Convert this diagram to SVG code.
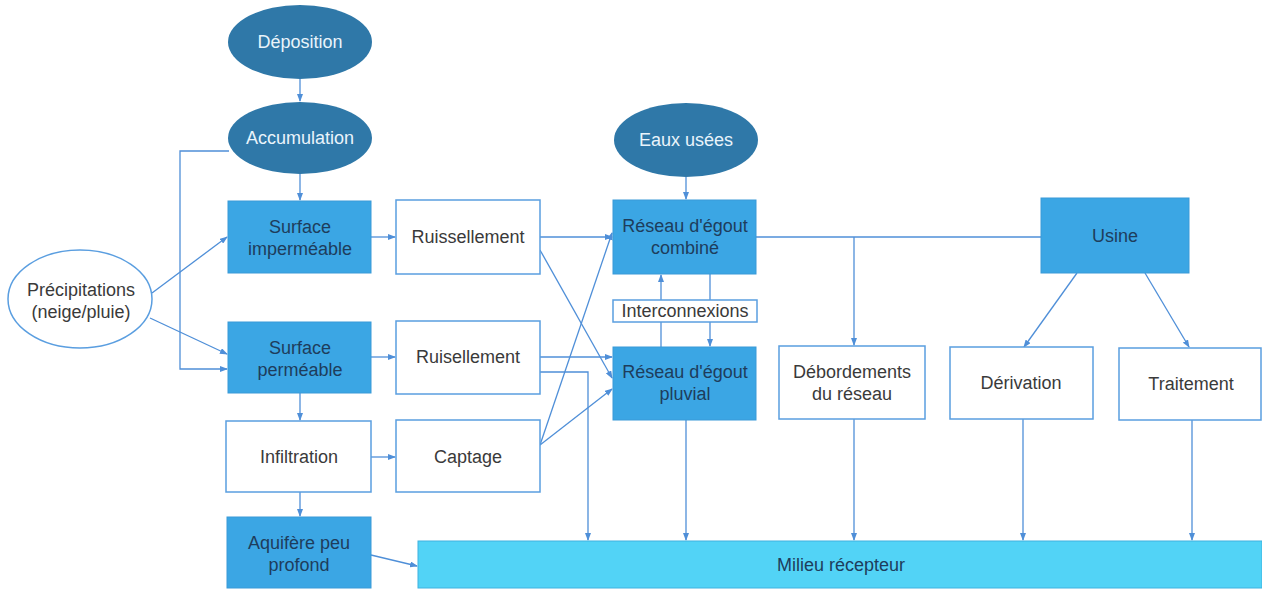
<svg xmlns="http://www.w3.org/2000/svg" width="1262" height="589" viewBox="0 0 1262 589">
<style>
text{font-family:"Liberation Sans",Arial,sans-serif;font-size:18px;text-anchor:middle}
.dk{fill:#2f78a8}
.lt{fill:#e9f4fb}
.bx{fill:#3ba6e4;stroke:#3a9ad8;stroke-width:1}
.bt{fill:#1e3d5c}
.wb{fill:#fff;stroke:#5a9ee0;stroke-width:1.5}
.wt{fill:#3a3a3a}
.cn{fill:none;stroke:#4f8fd8;stroke-width:1.3}
</style>
<defs>
<marker id="ah" markerWidth="8" markerHeight="6" refX="7" refY="3" orient="auto" markerUnits="userSpaceOnUse">
<path d="M0,0 L8,3 L0,6 Z" fill="#4f8fd8"/>
</marker>
</defs>
<rect width="1262" height="589" fill="#fff"/>
<g id="connectors" class="cn" marker-end="url(#ah)">
<path d="M300,79 V101"/>
<path d="M300,174 V200"/>
<path d="M229,151 H180 V369 H227"/>
<path d="M152,293 L227,237"/>
<path d="M150,318 L227,354"/>
<path d="M371,237 H395"/>
<path d="M371,357 H395"/>
<path d="M300,393 V420"/>
<path d="M371,457 H395"/>
<path d="M300,492 V516"/>
<path d="M371,555 L417,566"/>
<path d="M540,237 H612"/>
<path d="M540,250 L612,378"/>
<path d="M540,357 H612"/>
<path d="M540,372 H588 V540"/>
<path d="M540,445 L612,233"/>
<path d="M540,445 L612,389"/>
<path d="M686,177 V199"/>
<path d="M710,274 V346"/>
<path d="M661,347 V275"/>
<path d="M686,420 V540"/>
<path d="M756,237 H1041" marker-end="none"/>
<path d="M854,237 V345"/>
<path d="M1077,273 L1024,347"/>
<path d="M1145,273 L1189,347"/>
<path d="M854,419 V540"/>
<path d="M1023,419 V540"/>
<path d="M1192,420 V540"/>
</g>
<g id="deposition"><ellipse class="dk" cx="300" cy="42" rx="72" ry="37"/><text class="lt" x="300" y="48">Déposition</text></g>
<g id="accumulation"><ellipse class="dk" cx="300" cy="138" rx="72" ry="36"/><text class="lt" x="300" y="144">Accumulation</text></g>
<g id="eaux-usees"><ellipse class="dk" cx="686" cy="140" rx="72" ry="37"/><text class="lt" x="686" y="146">Eaux usées</text></g>
<g id="precipitations"><ellipse cx="80" cy="299" rx="72" ry="49" fill="#fff" stroke="#5a9ee0" stroke-width="1.5"/><text class="wt" x="81" y="296">Précipitations</text><text class="wt" x="81" y="318">(neige/pluie)</text></g>
<g id="surface-impermeable"><rect class="bx" x="228" y="201" width="143" height="72"/><text class="bt" x="300" y="233">Surface</text><text class="bt" x="300" y="255">imperméable</text></g>
<g id="surface-permeable"><rect class="bx" x="228" y="322" width="143" height="71"/><text class="bt" x="300" y="354">Surface</text><text class="bt" x="300" y="376">perméable</text></g>
<g id="infiltration"><rect class="wb" x="226" y="421" width="145" height="71"/><text class="wt" x="299" y="463">Infiltration</text></g>
<g id="aquifere"><rect class="bx" x="227" y="517" width="144" height="71"/><text class="bt" x="299" y="549">Aquifère peu</text><text class="bt" x="299" y="571">profond</text></g>
<g id="ruissellement1"><rect class="wb" x="396" y="200" width="144" height="74"/><text class="wt" x="468" y="243">Ruissellement</text></g>
<g id="ruissellement2"><rect class="wb" x="396" y="321" width="144" height="73"/><text class="wt" x="468" y="363">Ruisellement</text></g>
<g id="captage"><rect class="wb" x="396" y="420" width="144" height="72"/><text class="wt" x="468" y="463">Captage</text></g>
<g id="reseau-combine"><rect class="bx" x="613" y="200" width="143" height="74"/><text class="bt" x="685" y="232">Réseau d'égout</text><text class="bt" x="685" y="254">combiné</text></g>
<g id="interconnexions"><rect class="wb" x="613" y="300" width="144" height="22"/><text class="wt" x="685" y="317">Interconnexions</text></g>
<g id="reseau-pluvial"><rect class="bx" x="613" y="347" width="143" height="73"/><text class="bt" x="685" y="378">Réseau d'égout</text><text class="bt" x="685" y="400">pluvial</text></g>
<g id="usine"><rect class="bx" x="1041" y="198" width="148" height="75"/><text class="bt" x="1115" y="242">Usine</text></g>
<g id="debordements"><rect class="wb" x="779" y="346" width="146" height="73"/><text class="wt" x="852" y="378">Débordements</text><text class="wt" x="852" y="400">du réseau</text></g>
<g id="derivation"><rect class="wb" x="950" y="347" width="143" height="72"/><text class="wt" x="1021" y="389">Dérivation</text></g>
<g id="traitement"><rect class="wb" x="1119" y="348" width="142" height="72"/><text class="wt" x="1191" y="390">Traitement</text></g>
<g id="milieu-recepteur"><rect x="418" y="541" width="844" height="47" fill="#52d3f6" stroke="#3fb2e0" stroke-width="1"/><text class="bt" x="841" y="571">Milieu récepteur</text></g>
</svg>
